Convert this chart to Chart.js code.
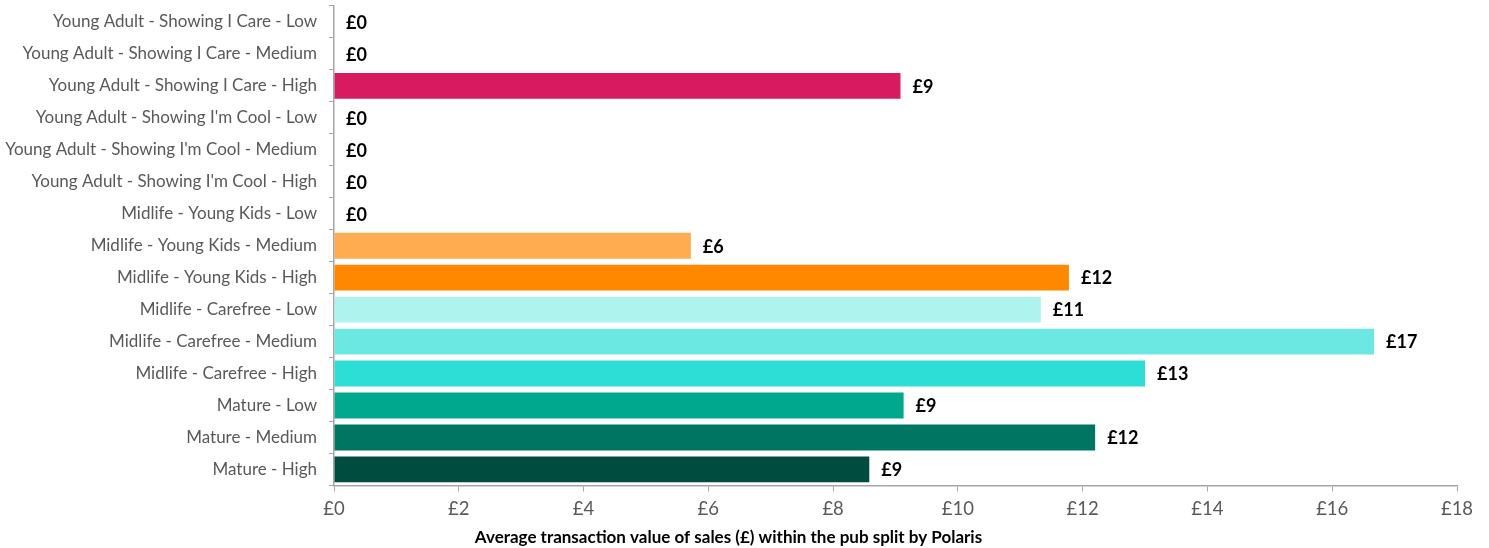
<!DOCTYPE html>
<html>
<head>
<meta charset="utf-8">
<script src="https://cdn.jsdelivr.net/npm/chart.js@4/dist/chart.umd.min.js"></script>
<style>
  html, body { margin: 0; padding: 0; background: #fff; }
  #wrap { width: 1489px; height: 548px; }
</style>
</head>
<body>
<div id="wrap"><canvas id="polarisChart" width="1489" height="548"></canvas></div>
<script>
// Data
const segments = [
    'Young Adult - Showing I Care - Low',
    'Young Adult - Showing I Care - Medium',
    'Young Adult - Showing I Care - High',
    "Young Adult - Showing I'm Cool - Low",
    "Young Adult - Showing I'm Cool - Medium",
    "Young Adult - Showing I'm Cool - High",
    'Midlife - Young Kids - Low',
    'Midlife - Young Kids - Medium',
    'Midlife - Young Kids - High',
    'Midlife - Carefree - Low',
    'Midlife - Carefree - Medium',
    'Midlife - Carefree - High',
    'Mature - Low',
    'Mature - Medium',
    'Mature - High'
];
const avgTransaction = [0, 0, 9.08, 0, 0, 0, 0, 5.72, 11.78, 11.33, 16.67, 13.0, 9.13, 12.2, 8.58];
const barColours = [
    '#D81B60', '#D81B60', '#D81B60',
    '#8E24AA', '#8E24AA', '#8E24AA',
    '#FFCB8F', '#FFAB50', '#FF8800',
    '#AFF3EF', '#6CE8E2', '#2CDED5',
    '#00A88D', '#007562', '#004D40'
];
const xTicks = [0, 2, 4, 6, 8, 10, 12, 14, 16, 18];
const axisTitle = 'Average transaction value of sales (£) within the pub split by Polaris';

// value labels at the end of each bar
const barLabels = {
    id: 'barLabels',
    afterDatasetsDraw(chart) {
        const ctx = chart.ctx;
        const meta = chart.getDatasetMeta(0);
        ctx.save();
        ctx.font = 'bold 18px Lato';
        ctx.fillStyle = '#000';
        ctx.textAlign = 'left';
        ctx.textBaseline = 'middle';
        meta.data.forEach(function (bar, i) {
            ctx.fillText('£' + Math.round(avgTransaction[i]), bar.x + 12, bar.y + 1);
        });
        ctx.restore();
    }
};

const ctx = document.getElementById('polarisChart').getContext('2d');
const chart = new Chart(ctx, {
    type: 'bar',
    data: {
        labels: segments,
        datasets: [{
            data: avgTransaction,
            backgroundColor: barColours,
            borderWidth: 0,
            categoryPercentage: 0.81,
            barPercentage: 1.0
        }]
    },
    options: {
        indexAxis: 'y',
        responsive: false,
        animation: false,
        layout: { padding: { top: 6, right: 32, bottom: 0, left: 0 } },
        plugins: {
            legend: { display: false },
            tooltip: { enabled: false },
            title: {
                display: true,
                position: 'bottom',
                text: axisTitle,
                color: '#000',
                font: { family: 'Lato', size: 17, weight: 'bold' },
                padding: { top: 0, bottom: 0 }
            }
        },
        scales: {
            x: {
                min: 0,
                max: 18,
                afterBuildTicks(scale) {
                    scale.ticks = xTicks.map(v => ({ value: v }));
                },
                grid: { drawOnChartArea: false, drawTicks: true, tickLength: 6, color: '#A6A6A6' },
                border: { color: '#A6A6A6', width: 1.5 },
                ticks: {
                    color: '#595959',
                    font: { family: 'Lato', size: 18.5 },
                    padding: 7,
                    callback: v => '£' + v
                }
            },
            y: {
                afterFit(scale) {
                    scale.width = 334;
                    scale.paddingTop = 0;
                    scale.paddingBottom = 0;
                },
                grid: { drawOnChartArea: false, drawTicks: true, tickLength: 5, color: '#A6A6A6', offset: true },
                border: { color: '#A6A6A6', width: 1.5 },
                ticks: {
                    color: '#595959',
                    font: { family: 'Lato', size: 17 },
                    padding: 12,
                    autoSkip: false
                }
            }
        }
    },
    plugins: [barLabels]
});
</script>
</body>
</html>
